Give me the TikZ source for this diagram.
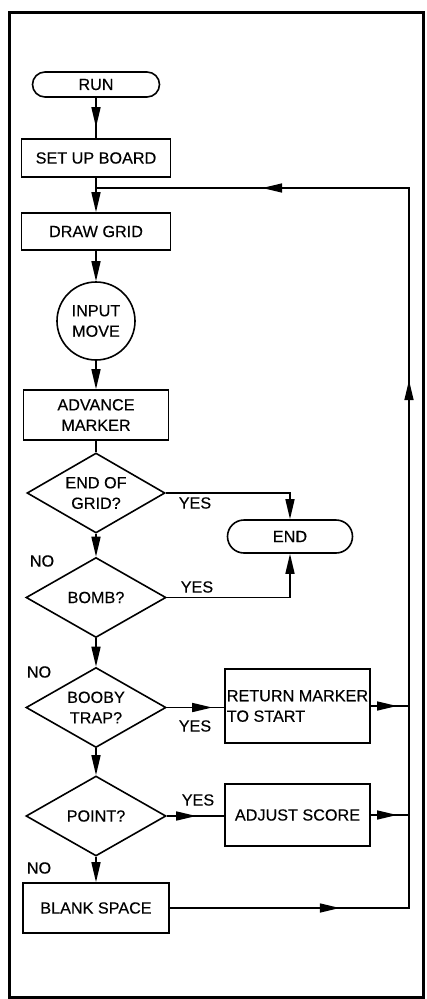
\documentclass[tikz,border=0pt]{standalone}
\usepackage{fontspec}
\setmainfont{Liberation Sans}[FakeBold=0.3]
\usetikzlibrary{shapes.geometric,arrows.meta,decorations.markings}
\begin{document}
\begin{tikzpicture}[x=1pt,y=-1pt,
  every node/.style={font=\fontsize{16.2}{20.5}\selectfont, inner sep=0pt},
  line/.style={line width=1.6pt},
  boxnode/.style={draw,line width=1.6pt,rectangle,align=center},
  term/.style={draw,line width=1.6pt,rectangle,rounded corners=#1},
  dec/.style={draw,line width=1.6pt,diamond,aspect=1.75,align=center,minimum width=140pt,minimum height=80pt},
  tip/.style={-{Triangle[length=20pt,width=9pt]}},
  arrowat/.style={postaction={decorate,decoration={markings,mark=at position #1 with {\arrow{Triangle[length=20pt,width=9pt]}}}}},
]
\useasboundingbox (0,0) rectangle (426,999);
\draw[line width=3pt] (9,12) rectangle (423,997);

\node[term=12.5pt, minimum width=127pt, minimum height=25pt] (run) at (96,84.5) {RUN};
\node[boxnode, minimum width=149pt, minimum height=38pt] (setup) at (96,158) {SET UP BOARD};
\node[boxnode, minimum width=149pt, minimum height=37pt] (grid) at (96,231.5) {DRAW GRID};
\node[draw,line width=1.6pt,circle,minimum size=78pt,align=center] (input) at (96,321) {INPUT\\MOVE};
\node[boxnode, minimum width=145pt, minimum height=50pt] (advance) at (96,415) {ADVANCE\\MARKER};
\node[dec, minimum width=138pt] (eog) at (96,493) {END OF\\GRID?};
\node[term=16.5pt, minimum width=125pt, minimum height=33pt] (endn) at (290,536.5) {END};
\node[dec] (bomb) at (96,597.5) {BOMB?};
\node[dec] (booby) at (96,707.5) {BOOBY\\TRAP?};
\node[boxnode, minimum width=145pt, minimum height=74pt, align=left] (ret) at (297.5,706) {RETURN MARKER\\TO START};
\node[dec] (point) at (96,816) {POINT?};
\node[boxnode, minimum width=145pt, minimum height=62pt] (adjust) at (297.5,815) {ADJUST SCORE};
\node[boxnode, minimum width=146pt, minimum height=50pt] (blank) at (96,908) {BLANK SPACE};

\coordinate (join) at (96,188);
\coordinate (rtop) at (409,188);
\coordinate (rbot) at (409,908);

\node (y1) at (195,503) {YES};
\node (y2) at (197,587) {YES};
\node (y3) at (195,726) {YES};
\node (y4) at (198,800) {YES};
\node (n1) at (42,561) {NO};
\node (n2) at (39,672) {NO};
\node (n3) at (39,868) {NO};

\draw[line,arrowat=-11pt] (run) -- (setup);
\draw[line,tip] (setup) -- (grid);
\draw[line,tip] (grid) -- (input);
\draw[line,tip] (input) -- (advance);
\draw[line] (advance) -- (eog);
\draw[line,tip] (eog) -- (bomb);
\draw[line,tip] (bomb) -- (booby);
\draw[line,tip] (booby) -- (point);
\draw[line,tip] (point) -- (blank);
\draw[line,tip] (eog.east) -| (endn.north);
\draw[line,tip] (bomb.east) -| (endn.south);
\draw[line,arrowat=-12pt] (booby.east) -- (ret.west |- booby.east);
\draw[line,arrowat=-12pt] (ret.east) -- (ret.east -| rbot);
\draw[line,arrowat=-28pt] (point.east) -- (adjust.west |- point.east);
\draw[line,arrowat=-12pt] (adjust.east) -- (adjust.east -| rbot);
\draw[line,arrowat=170pt,arrowat=767pt,arrowat=1106pt] (blank.east) -- (blank.east -| rbot) -- (rtop) -- (join);
\end{tikzpicture}
\end{document}
